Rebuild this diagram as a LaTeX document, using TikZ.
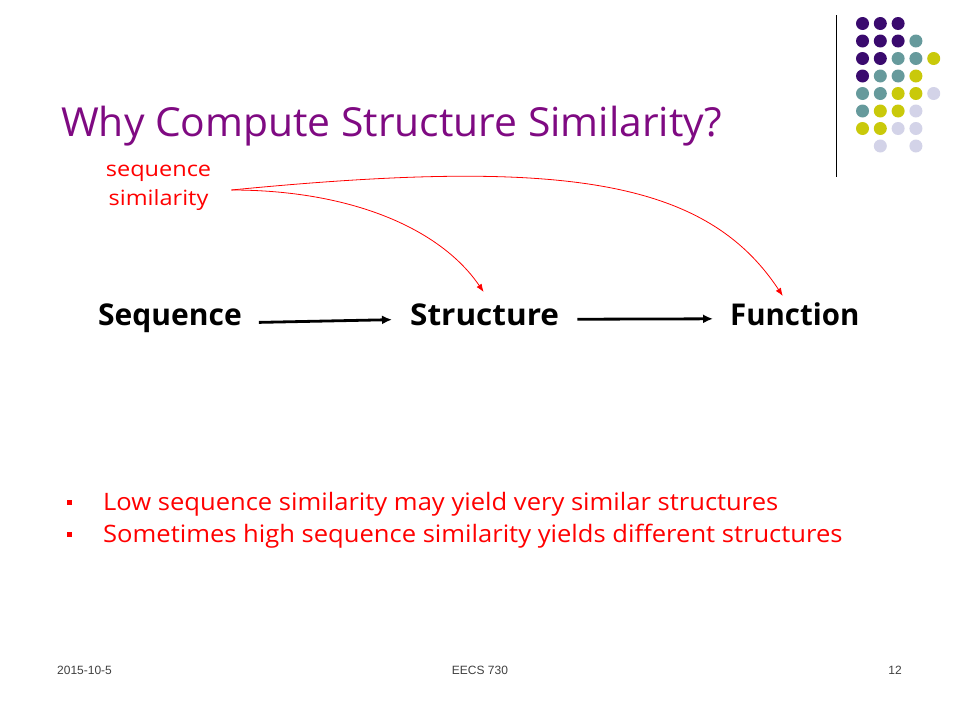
\documentclass[tikz,border=0pt]{standalone}
\usepackage{fontspec}
\setmainfont{Open Sans}
\newfontfamily\footfont{Liberation Sans}
\usetikzlibrary{arrows.meta}
\definecolor{titlepurple}{HTML}{7F0A82}
\definecolor{dpurple}{HTML}{3A0A6E}
\definecolor{dteal}{HTML}{669A9C}
\definecolor{dyellow}{HTML}{C9C90A}
\definecolor{dlav}{HTML}{D3D3E8}
\definecolor{footgray}{HTML}{404040}
\tikzset{
  word/.style={anchor=base west, inner sep=0pt, font=\fontsize{30}{34}\selectfont\bfseries},
  mainarrow/.style={line width=2.8pt, -{Latex[length=10pt,width=9pt]}},
  redarrow/.style={red, line width=0.8pt, -{Latex[length=8pt,width=6pt]}},
  redtext/.style={text=red, inner sep=0pt},
  bullettext/.style={redtext, anchor=base west, font=\fontsize{24}{28}\selectfont},
  foot/.style={font=\footfont\fontsize{12}{14}\selectfont, text=footgray, inner sep=0pt, anchor=base},
  dot/.style={radius=6.5pt}
}
\begin{document}
\begin{tikzpicture}[x=1pt,y=-1pt]
\useasboundingbox[fill=white] (0,0) rectangle (960,720);
% logo line and dots
\draw[line width=1pt] (836.5,15) -- (836.5,177);
\foreach \c/\row in {
  {dpurple,dpurple,dpurple}/0,
  {dpurple,dpurple,dpurple,dteal}/1,
  {dpurple,dpurple,dteal,dteal,dyellow}/2,
  {dpurple,dteal,dteal,dyellow}/3,
  {dteal,dteal,dyellow,dyellow,dlav}/4,
  {dteal,dyellow,dyellow,dlav}/5,
  {dyellow,dyellow,dlav,dlav}/6,
  {white,dlav,white,dlav}/7}{
  \foreach \col [count=\i from 0] in \c {
    \fill[\col] ({862.5+\i*17.8},{23.5+\row*17.5}) circle[dot];
  }
}
% title
\node[anchor=base west, inner sep=0pt, text=titlepurple, font=\fontsize{40}{44}\selectfont] (title) at (61,136) {\scalebox{1.02}[1]{Why Compute Structure Similarity?}};
% seq sim label
\node[redtext, align=center, font=\fontsize{21}{29}\selectfont] (lab) at (158.5,188) {\scalebox{1.12}[1]{sequence}\\\scalebox{1.12}[1]{similarity}};
% main words
\node[word] (seq) at (98,325) {Sequence};
\node[word] (str) at (410,325) {\scalebox{1.05}[1]{Structure}};
\node[word] (fun) at (730,325) {\scalebox{0.98}[1]{Function}};
\draw[mainarrow, shorten <=17pt, shorten >=18pt] ([yshift=-5pt]seq.east) -- ([yshift=-5pt]str.west);
\draw[mainarrow, shorten <=18pt, shorten >=17pt] ([yshift=-5pt]str.east) -- ([yshift=-5pt]fun.west);
% red curves
\coordinate (src) at ([xshift=20pt,yshift=-2pt]lab.east);
\draw[redarrow] (src) .. controls (350,190) and (440,228) .. ([xshift=-1pt,yshift=33pt]str.base);
\draw[redarrow] (src) .. controls (560,158) and (705,178) .. ([xshift=-12pt,yshift=29pt]fun.base);
% bullets
\fill[red] (67,500) rectangle (71.5,504.5);
\fill[red] (67,532) rectangle (71.5,536.5);
\node[bullettext] (b1) at (103,510) {\scalebox{1.065}[1]{Low sequence similarity may yield very similar structures}};
\node[bullettext] (b2) at (103,542) {\scalebox{1.065}[1]{Sometimes high sequence similarity yields different structures}};
% footer
\node[foot, anchor=base west] (date) at (57,674) {2015-10-5};
\node[foot] (course) at (480,674) {EECS 730};
\node[foot, anchor=base east] (page) at (902,674) {12};
\end{tikzpicture}
\end{document}
